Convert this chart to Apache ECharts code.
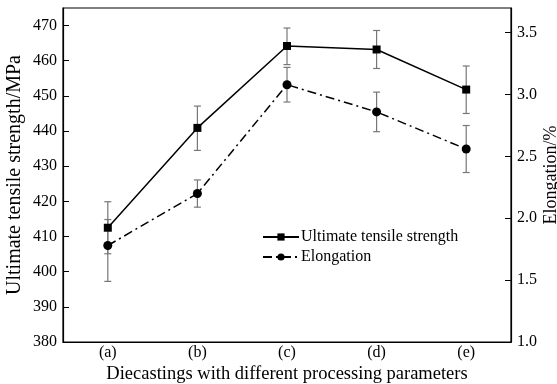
<!DOCTYPE html>
<html>
<head>
<meta charset="utf-8">
<script src="https://cdn.jsdelivr.net/npm/echarts@6/dist/echarts.min.js"></script>
<style>
  html, body { margin: 0; padding: 0; background: #fff; }
  #chart { width: 557px; height: 384px; }
</style>
</head>
<body>
<div id="chart"></div>
<script>
  const categories = ['(a)', '(b)', '(c)', '(d)', '(e)'];
  // ultimate tensile strength, MPa
  const utsValues = [412.5, 440.9, 464.2, 463.2, 451.8];
  const utsLow = [405.1, 434.5, 458.9, 457.8, 445.0];
  const utsHigh = [419.9, 447.1, 469.3, 468.6, 458.5];
  // elongation, %
  const elongValues = [1.78, 2.20, 3.08, 2.86, 2.56];
  const elongLow = [1.49, 2.09, 2.94, 2.70, 2.37];
  const elongHigh = [1.99, 2.31, 3.22, 3.02, 2.75];

  const font = 'Liberation Serif';

  const errorBar = (params, api) => {
    const x = api.value(0);
    const lo = api.coord([x, api.value(1)]);
    const hi = api.coord([x, api.value(2)]);
    const w = 3.5;
    const style = { stroke: '#777', lineWidth: 1.2 };
    return {
      type: 'group',
      children: [
        { type: 'line', shape: { x1: lo[0], y1: lo[1], x2: hi[0], y2: hi[1] }, style },
        { type: 'line', shape: { x1: lo[0] - w, y1: lo[1], x2: lo[0] + w, y2: lo[1] }, style },
        { type: 'line', shape: { x1: hi[0] - w, y1: hi[1], x2: hi[0] + w, y2: hi[1] }, style }
      ]
    };
  };

  const chart = echarts.init(document.getElementById('chart'));
  chart.setOption({
    animation: false,
    textStyle: { fontFamily: font, color: '#000' },
    grid: {
      left: 63, right: 46, top: 8, bottom: 42,
      outerBoundsMode: 'none',
      containLabel: false,
      show: true, borderColor: '#000', borderWidth: 1.2
    },
    legend: {
      data: ['Ultimate tensile strength', 'Elongation'],
      orient: 'vertical',
      left: 257,
      top: 224,
      itemWidth: 36,
      itemHeight: 9,
      itemGap: 4,
      textStyle: { fontFamily: font, fontSize: 16, color: '#000', padding: [0, 0, 0, -3] }
    },
    xAxis: {
      type: 'category',
      data: categories,
      boundaryGap: true,
      name: 'Diecastings with different processing parameters',
      nameLocation: 'middle',
      nameGap: 23,
      nameMoveOverlap: false,
      nameTextStyle: { fontFamily: font, fontSize: 18.5, color: '#000' },
      axisLine: { lineStyle: { color: '#000', width: 1.2 } },
      axisTick: { inside: true, alignWithLabel: true, length: 6, lineStyle: { color: '#000' } },
      axisLabel: { fontFamily: font, fontSize: 16, color: '#000', margin: 3 },
      splitLine: { show: false }
    },
    yAxis: [{
      type: 'value',
      min: 380, max: 475, interval: 10,
      name: 'Ultimate tensile strength/MPa',
      nameLocation: 'middle',
      nameGap: 38,
      nameMoveOverlap: false,
      nameTextStyle: { fontFamily: font, fontSize: 20, color: '#000' },
      axisLine: { show: true, lineStyle: { color: '#000', width: 1.2 } },
      axisTick: { show: true, inside: true, length: 6, lineStyle: { color: '#000' } },
      axisLabel: { fontFamily: font, fontSize: 16, color: '#000', margin: 6, showMaxLabel: false },
      splitLine: { show: false }
    }, {
      type: 'value',
      position: 'right',
      min: 1.0, max: 3.7, interval: 0.5,
      name: 'Elongation/%',
      nameLocation: 'middle',
      nameGap: 31,
      nameMoveOverlap: false,
      nameRotate: 90,
      nameTextStyle: { fontFamily: font, fontSize: 18, color: '#000' },
      axisLine: { show: true, lineStyle: { color: '#000', width: 1.2 } },
      axisTick: { show: true, inside: true, length: 6, lineStyle: { color: '#000' } },
      axisLabel: {
        fontFamily: font, fontSize: 16, color: '#000', margin: 6, showMaxLabel: false,
        formatter: v => v.toFixed(1)
      },
      splitLine: { show: false }
    }],
    series: [{
      name: 'utsError',
      type: 'custom',
      renderItem: errorBar,
      data: categories.map((c, i) => [i, utsLow[i], utsHigh[i]]),
      z: 1
    }, {
      name: 'elongError',
      type: 'custom',
      yAxisIndex: 1,
      renderItem: errorBar,
      data: categories.map((c, i) => [i, elongLow[i], elongHigh[i]]),
      z: 1
    }, {
      name: 'Ultimate tensile strength',
      type: 'line',
      data: utsValues,
      symbol: 'rect',
      symbolSize: 8,
      itemStyle: { color: '#000' },
      lineStyle: { color: '#000', width: 1.5 },
      z: 3
    }, {
      name: 'Elongation',
      type: 'line',
      yAxisIndex: 1,
      data: elongValues,
      symbol: 'circle',
      symbolSize: 9,
      itemStyle: { color: '#000' },
      lineStyle: { color: '#000', width: 1.5, type: [9, 4, 2, 4] },
      z: 3
    }]
  });
</script>
</body>
</html>
